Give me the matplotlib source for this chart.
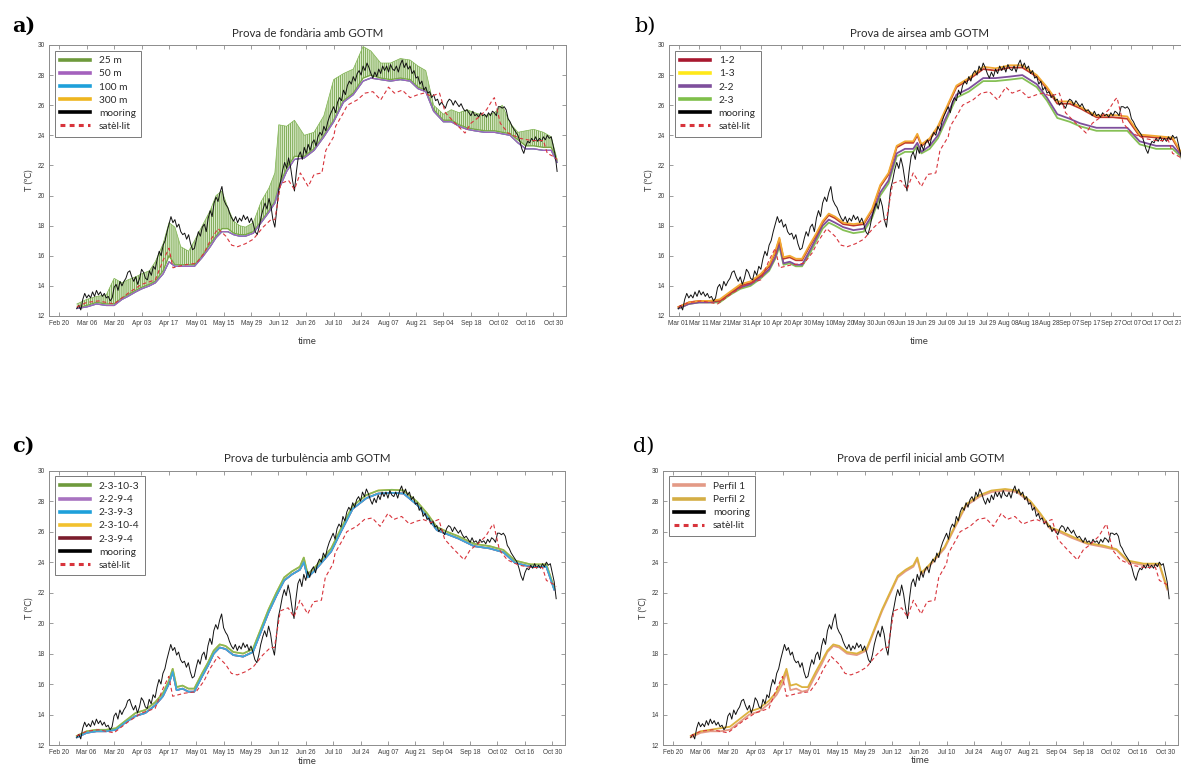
import numpy as np
import matplotlib
matplotlib.use("Agg")
import matplotlib.pyplot as plt
import matplotlib.dates as mdates
from matplotlib.lines import Line2D

plt.rcParams["font.family"] = ["Lato", "DejaVu Sans"]
plt.rcParams["hatch.linewidth"] = 0.55

START = np.datetime64("2019-03-01")

# mooring, daily mean temperature from 1 March
moor_temp = [
    12.5, 12.7, 12.4, 13.1, 13.5, 13.2, 13.4, 13.2, 13.6, 13.3,
    13.7, 13.4, 13.6, 13.3, 13.5, 13.2, 13.3, 13.0, 13.2, 13.9,
    14.1, 13.7, 14.3, 14.0, 14.3, 14.5, 14.9, 15.0, 14.6, 14.3,
    14.6, 14.1, 14.5, 15.1, 14.9, 14.5, 14.4, 15.0, 14.7, 15.3,
    15.1, 15.8, 16.3, 16.0, 16.7, 17.0, 17.6, 18.1, 18.6, 18.2,
    18.4, 17.9, 18.1, 17.6, 17.4, 17.5, 17.1, 17.4, 16.8, 16.4,
    16.5, 17.1, 17.6, 17.3, 17.9, 18.1, 17.6, 18.5, 19.0, 18.6,
    19.5, 19.9, 19.6, 20.2, 20.6, 19.7, 19.4, 19.2, 18.8, 18.5,
    18.3, 18.6, 18.2, 18.5, 18.3, 18.7, 18.4, 18.6, 18.2, 18.5,
    18.1, 17.6, 17.4, 17.9, 18.6, 19.1, 19.5, 19.1, 19.8, 19.3,
    18.4, 17.9, 19.1, 20.4, 21.0, 21.7, 22.2, 21.8, 22.5, 21.9,
    21.0, 20.3, 21.6, 22.6, 22.9, 22.4, 23.2, 22.8, 23.4, 23.0,
    23.5, 23.7, 23.3, 23.9, 24.2, 24.0, 24.6, 24.3, 24.9, 25.3,
    25.6, 25.9, 25.5, 26.2, 26.5, 26.3, 27.0, 26.7, 27.3, 27.6,
    27.4, 27.9, 27.6, 28.1, 28.3, 28.0, 28.6, 28.3, 28.8, 28.5,
    28.1, 27.8, 28.2, 27.9, 28.4, 28.1, 28.6, 28.3, 28.6, 28.2,
    28.7, 28.4, 28.3, 28.6, 28.2, 28.7, 29.0, 28.5, 28.8, 28.4,
    28.6, 28.1, 28.3, 27.8, 27.9, 27.4, 27.6, 27.0, 27.2, 26.8,
    26.9, 26.5, 26.7, 26.3, 26.4, 26.0, 26.2, 26.0, 25.8, 26.2,
    26.4, 26.3, 26.0, 26.3, 26.1, 25.9, 26.1, 25.8, 25.6, 25.7,
    25.5, 25.3, 25.6, 25.3, 25.4, 25.2, 25.5, 25.3, 25.4, 25.2,
    25.5, 25.3, 25.6, 25.5, 25.3, 25.9, 25.9, 25.8, 25.9, 25.7,
    25.1, 24.9, 24.6, 24.4, 24.2, 24.0, 23.6, 23.1, 22.8, 23.3,
    23.6, 23.5, 23.8, 23.6, 23.9, 23.6, 23.8, 23.6, 23.9, 23.7,
    24.0, 23.8, 23.9, 23.3, 22.7, 21.6,
]

# satellite SST (days from 1 March)
sat_days = [0, 5, 11, 19, 26, 33, 40, 44, 47, 49, 55, 61, 65, 68, 72, 76, 79, 82,
            86, 90, 95, 99, 101, 104, 108, 111, 114, 118, 121, 125, 127, 131, 132,
            136, 138, 143, 147, 151, 155, 159, 162, 166, 170, 174, 177, 181, 185,
            188, 193, 198, 201, 205, 209, 212, 213, 216, 220, 226, 232, 238, 240,
            243, 245]
sat_temp = [12.6, 12.9, 13.0, 12.8, 13.5, 14.1, 14.4, 15.7, 16.5, 15.2, 15.4, 15.5,
            16.2, 17.0, 17.8, 17.3, 16.7, 16.6, 16.8, 17.1, 17.9, 18.4, 18.4, 20.8,
            21.0, 20.4, 21.5, 20.6, 21.4, 21.5, 23.0, 23.9, 24.6, 25.5, 26.0, 26.35,
            26.8, 26.9, 26.35, 27.2, 26.8, 27.0, 26.5, 26.7, 26.8, 26.6, 26.8, 25.5,
            24.8, 24.15, 24.8, 25.2, 25.7, 26.35, 26.5, 24.8, 24.15, 23.8, 23.65,
            23.65, 22.8, 22.6, 22.4]

# a) depth runs
a_days = [0, 5, 10, 15, 19, 23, 26, 30, 33, 37, 40, 44, 47, 50, 53, 57, 60, 64, 68,
          71, 74, 77, 80, 83, 86, 90, 94, 98, 101, 103, 107, 111, 116, 121, 126, 131,
          136, 141, 146, 150, 155, 160, 165, 170, 174, 178, 182, 187, 191, 195, 199,
          203, 208, 213, 217, 221, 225, 229, 233, 238, 242, 245]
a_25m_hi = [12.8, 13.1, 13.3, 13.4, 14.5, 14.2, 14.4, 14.6, 14.8, 15.0, 15.6, 16.8,
            18.2, 17.9, 16.6, 16.3, 17.0, 18.0, 19.0, 20.0, 20.3, 19.2, 18.3, 18.0,
            17.9, 18.2, 19.6, 20.5, 21.5, 24.7, 24.6, 25.0, 24.0, 24.2, 25.3, 27.7,
            28.1, 28.4, 29.9, 29.6, 28.8, 28.8, 29.1, 29.0, 28.6, 28.3, 26.0, 25.4,
            25.7, 25.5, 25.7, 25.5, 25.3, 25.5, 26.0, 24.8, 24.2, 24.3, 24.4, 24.2,
            23.9, 22.4]
a_25m_lo = [12.5, 12.7, 12.9, 12.8, 12.8, 13.2, 13.4, 13.7, 13.9, 14.1, 14.3, 15.0,
            16.0, 15.4, 15.4, 15.4, 15.4, 16.0, 16.8, 17.3, 17.8, 17.8, 17.5, 17.4,
            17.4, 17.6, 18.3, 19.0, 19.6, 20.6, 21.8, 22.6, 22.6, 23.1, 24.0, 25.0,
            26.3, 26.8, 27.8, 28.0, 27.8, 27.7, 27.8, 27.7, 27.2, 27.0, 25.7, 25.0,
            25.0, 24.7, 24.5, 24.4, 24.3, 24.3, 24.2, 24.1, 23.7, 23.3, 23.3, 23.2,
            23.2, 22.3]
# 50 m, 100 m and 300 m runs lie on top of each other
a_deep = [12.5, 12.6, 12.8, 12.7, 12.7, 13.1, 13.3, 13.6, 13.8, 14.0, 14.2, 14.8,
          15.6, 15.3, 15.3, 15.3, 15.3, 15.9, 16.6, 17.2, 17.6, 17.6, 17.4, 17.3,
          17.3, 17.5, 18.2, 18.9, 19.5, 20.4, 21.6, 22.4, 22.5, 23.0, 23.9, 24.9,
          26.2, 26.7, 27.6, 27.8, 27.7, 27.6, 27.7, 27.6, 27.1, 26.9, 25.6, 24.9,
          24.9, 24.6, 24.4, 24.3, 24.2, 24.2, 24.1, 24.0, 23.5, 23.1, 23.1, 23.0,
          23.0, 22.2]

# b), c), d) model runs on a common output grid
run_days = [0, 5, 10, 15, 20, 25, 30, 35, 40, 44, 47, 49, 51, 54, 57, 60, 64, 67, 70,
            73, 76, 80, 85, 90, 94, 98, 102, 106, 110, 114, 116, 118, 122, 126, 130,
            135, 141, 148, 154, 161, 167, 174, 179, 184, 190, 195, 203, 211, 218, 224,
            232, 240, 244]
b_12 = [12.6, 12.9, 13.0, 13.0, 13.0, 13.5, 14.0, 14.2, 14.7, 15.3, 16.2, 17.1, 15.8,
        15.9, 15.7, 15.7, 16.7, 17.4, 18.2, 18.7, 18.5, 18.1, 18.0, 18.1, 19.0, 20.6,
        21.4, 23.2, 23.5, 23.5, 24.0, 23.3, 23.7, 24.5, 25.7, 27.2, 27.7, 28.4, 28.3,
        28.5, 28.5, 27.9, 27.1, 26.1, 26.1, 25.8, 25.2, 25.2, 25.1, 23.95, 23.85,
        23.75, 22.8]
b_13 = [12.6, 12.9, 13.0, 13.0, 13.1, 13.6, 14.1, 14.3, 14.8, 15.4, 16.3, 17.2, 15.9,
        16.0, 15.8, 15.8, 16.8, 17.5, 18.3, 18.8, 18.6, 18.2, 18.1, 18.2, 19.1, 20.7,
        21.5, 23.3, 23.6, 23.6, 24.1, 23.4, 23.8, 24.6, 25.8, 27.3, 27.8, 28.55, 28.45,
        28.65, 28.65, 28.0, 27.2, 26.25, 26.25, 25.9, 25.3, 25.35, 25.25, 24.05, 23.95,
        23.85, 22.9]
b_22 = [12.5, 12.8, 12.9, 12.9, 13.0, 13.5, 13.9, 14.1, 14.6, 15.1, 15.9, 16.8, 15.5,
        15.6, 15.4, 15.4, 16.4, 17.2, 18.0, 18.4, 18.2, 17.9, 17.7, 17.8, 18.7, 20.2,
        21.0, 22.8, 23.1, 23.1, 23.5, 22.9, 23.3, 24.0, 25.2, 26.7, 27.1, 27.8, 27.8,
        27.9, 28.0, 27.4, 26.5, 25.4, 25.1, 24.8, 24.5, 24.5, 24.5, 23.6, 23.3, 23.3,
        22.7]
b_23 = [12.5, 12.8, 12.9, 12.9, 12.9, 13.4, 13.8, 14.0, 14.5, 15.0, 15.8, 16.6, 15.4,
        15.5, 15.3, 15.3, 16.2, 17.0, 17.8, 18.2, 18.0, 17.7, 17.5, 17.6, 18.5, 20.0,
        20.8, 22.6, 22.9, 22.9, 23.3, 22.8, 23.1, 23.8, 25.0, 26.5, 26.9, 27.6, 27.6,
        27.7, 27.8, 27.2, 26.3, 25.15, 24.9, 24.6, 24.3, 24.3, 24.3, 23.4, 23.1, 23.1,
        22.6]
# turbulence runs: the 2-3-10-x pair sits slightly above the other three
c_hi = [12.6, 12.9, 13.0, 13.0, 13.1, 13.6, 14.1, 14.3, 14.8, 15.4, 16.2, 17.0, 15.8,
        15.9, 15.7, 15.7, 16.7, 17.4, 18.2, 18.6, 18.5, 18.1, 18.0, 18.3, 19.6, 20.9,
        22.0, 23.0, 23.4, 23.7, 24.3, 23.2, 23.7, 24.3, 24.9, 26.2, 27.7, 28.4, 28.7,
        28.75, 28.7, 27.95, 27.2, 26.3, 25.95, 25.7, 25.2, 25.05, 24.8, 24.1, 23.85,
        23.85, 22.3]
c_lo = [12.5, 12.8, 12.9, 12.9, 13.0, 13.5, 13.9, 14.1, 14.6, 15.2, 16.0, 16.8, 15.6,
        15.7, 15.5, 15.5, 16.5, 17.2, 18.0, 18.4, 18.3, 17.9, 17.8, 18.1, 19.4, 20.7,
        21.8, 22.8, 23.2, 23.5, 24.0, 23.0, 23.5, 24.1, 24.7, 26.0, 27.5, 28.2, 28.5,
        28.55, 28.5, 27.75, 27.0, 26.1, 25.8, 25.55, 25.05, 24.9, 24.65, 23.95, 23.7,
        23.7, 22.2]
d_perfil1 = [12.5, 12.8, 12.9, 12.9, 13.0, 13.5, 14.0, 14.2, 14.7, 15.3, 16.0, 16.8,
             15.6, 15.7, 15.5, 15.6, 16.6, 17.3, 18.1, 18.5, 18.4, 18.0, 17.9, 18.2,
             19.5, 20.8, 21.9, 23.0, 23.4, 23.7, 24.2, 23.2, 23.7, 24.3, 24.9, 26.2,
             27.7, 28.3, 28.6, 28.7, 28.6, 27.9, 27.1, 26.2, 25.9, 25.6, 25.2, 25.0,
             24.8, 24.0, 23.8, 23.8, 22.2]
d_perfil2 = [12.6, 12.9, 13.0, 13.1, 13.2, 13.7, 14.2, 14.4, 14.9, 15.5, 16.3, 17.0,
             15.9, 16.0, 15.8, 15.8, 16.8, 17.5, 18.2, 18.6, 18.5, 18.1, 18.0, 18.3,
             19.6, 20.9, 22.0, 23.1, 23.5, 23.8, 24.3, 23.3, 23.8, 24.4, 25.0, 26.3,
             27.8, 28.4, 28.7, 28.8, 28.7, 28.0, 27.2, 26.3, 26.0, 25.7, 25.25, 25.1,
             24.85, 24.1, 23.9, 23.9, 22.3]

GRAY = "#8c8c8c"
TXT = "#3c3c3c"
MOOR = "#111111"
SAT = "#d8343c"
TICK_FONT = ["Liberation Sans", "DejaVu Sans"]


def dn(days):
    return mdates.date2num(START) + np.asarray(days, dtype=float)


def on_date(s):
    return mdates.date2num(np.datetime64(s))


def frame(ax, ticks, xlim, title, title_x=0.5, xlabel_pad=7):
    ax.set_xlim(xlim)
    ax.set_ylim(12, 30)
    ax.set_yticks(range(12, 31, 2))
    ax.set_xticks(ticks)
    ax.xaxis.set_major_formatter(mdates.DateFormatter("%b %d"))
    ax.tick_params(direction="in", length=3, width=0.6, color=GRAY,
                   labelsize=4.7, labelcolor=TXT, top=True, right=True, pad=3)
    for lab in ax.get_xticklabels() + ax.get_yticklabels():
        lab.set_family(TICK_FONT)
    for s in ax.spines.values():
        s.set_color(GRAY)
        s.set_linewidth(0.7)
    ax.set_title(title, fontsize=8.3, color="#2a2a2a", pad=6, x=title_x)
    ax.set_xlabel("time", fontsize=7, color=TXT, labelpad=xlabel_pad, x=title_x)
    ax.set_ylabel("T (ºC)", fontsize=6.5, color=TXT, labelpad=3)


def observations(ax):
    ax.plot(dn(np.arange(len(moor_temp))), moor_temp, color=MOOR, lw=0.7)
    ax.plot(dn(sat_days), sat_temp, color=SAT, lw=0.8, dashes=(3.5, 2.5))


def legend(ax, entries):
    handles = []
    for label, color in entries:
        if label == "satèl·lit":
            h = Line2D([], [], color=SAT, lw=2.2, dashes=(1.6, 1.4))
        else:
            h = Line2D([], [], color=color, lw=2.6)
        handles.append(h)
    leg = ax.legend(handles, [e[0] for e in entries], loc="upper left",
                    fontsize=7.3, frameon=True, fancybox=False, framealpha=1,
                    edgecolor="#7a7a7a", handlelength=2.9, handletextpad=0.9,
                    labelspacing=0.4, borderaxespad=0.55, borderpad=0.55)
    leg.get_frame().set_linewidth(0.7)
    for t in leg.get_texts():
        t.set_color("#2a2a2a")


fig = plt.figure(figsize=(11.81, 7.66), dpi=100)

ticks_2w = [on_date(d) for d in np.arange(np.datetime64("2019-02-20"),
                                          np.datetime64("2019-10-31"), 14)]
ticks_10d = [on_date(d) for d in np.arange(np.datetime64("2019-03-01"),
                                           np.datetime64("2019-10-28"), 10)]
feb20 = on_date("2019-02-20")
lim_2w = (feb20 - 5.1, feb20 + 258.5)
lim_10d = (dn(0) - 4.6, dn(0) + 248.5)

# a) depth test
ax = fig.add_axes([0.0417, 0.5875, 0.4375, 0.3538])
C25, C50, C100, C300 = "#79a845", "#a461bd", "#1ea0da", "#eeb51f"
x = dn(a_days)
ax.fill_between(x, a_25m_lo, a_25m_hi, facecolor="#a9cf85", alpha=0.45, lw=0)
ax.fill_between(x, a_25m_lo, a_25m_hi, facecolor="none", edgecolor="#6c9e3e",
                hatch="||||||||", lw=0)
ax.plot(x, a_25m_hi, color="#7fb450", lw=0.5)
ax.plot(x, a_25m_lo, color=C25, lw=1.0)
for c in (C300, C100, C50):
    ax.plot(x, a_deep, color=c, lw=0.9)
observations(ax)
frame(ax, ticks_2w, lim_2w, "Prova de fondària amb GOTM")
legend(ax, [("25 m", "#6e9a3c"), ("50 m", C50), ("100 m", C100), ("300 m", C300),
            ("mooring", "black"), ("satèl·lit", SAT)])

# b) air-sea flux test
ax = fig.add_axes([0.5665, 0.5875, 0.4412, 0.3538])
x = dn(run_days)
ax.plot(x, b_23, color="#86c055", lw=1.3)
ax.plot(x, b_22, color="#7e4f9c", lw=1.3)
ax.plot(x, b_12, color="#c0392b", lw=1.3)
ax.plot(x, b_13, color="#f2a933", lw=1.3)
observations(ax)
frame(ax, ticks_10d, lim_10d, "Prova de airsea amb GOTM", title_x=0.48)
legend(ax, [("1-2", "#a8182f"), ("1-3", "#ffe81a"), ("2-2", "#7e4f9c"),
            ("2-3", "#7fbf4a"), ("mooring", "black"), ("satèl·lit", SAT)])

# c) turbulence test
ax = fig.add_axes([0.0417, 0.0274, 0.4367, 0.3581])
ax.plot(x, c_lo, color="#7b1c2c", lw=1.2)
ax.plot(x, c_lo, color="#b07cc6", lw=1.2)
ax.plot(x, c_hi, color="#f2c12e", lw=1.2)
ax.plot(x, c_hi, color="#86b85a", lw=1.2)
ax.plot(x, c_lo, color="#3aa9dc", lw=1.2)
observations(ax)
frame(ax, ticks_2w, lim_2w, "Prova de turbulència amb GOTM", xlabel_pad=0.5)
legend(ax, [("2-3-10-3", "#6e9a3c"), ("2-2-9-4", "#a873c0"), ("2-3-9-3", "#1ea0da"),
            ("2-3-10-4", "#f2c12e"), ("2-3-9-4", "#7b1c2c"), ("mooring", "black"),
            ("satèl·lit", SAT)])

# d) initial profile test
ax = fig.add_axes([0.5616, 0.0274, 0.4358, 0.3581])
ax.plot(x, d_perfil1, color="#e59a86", lw=1.3)
ax.plot(x, d_perfil2, color="#dcb23e", lw=1.3)
observations(ax)
frame(ax, ticks_2w, lim_2w, "Prova de perfil inicial amb GOTM", xlabel_pad=0)
legend(ax, [("Perfil 1", "#e39a86"), ("Perfil 2", "#d4ae45"), ("mooring", "black"),
            ("satèl·lit", SAT)])

for s, (px, py), bold in [("a)", (0.010, 0.9586), True), ("b)", (0.537, 0.9586), False),
                          ("c)", (0.010, 0.410), True), ("d)", (0.536, 0.410), False)]:
    fig.text(px, py, s, fontsize=15, family="DejaVu Serif",
             weight="bold" if bold else "normal", va="baseline", color="black")

fig.savefig("out.png", dpi=100)
